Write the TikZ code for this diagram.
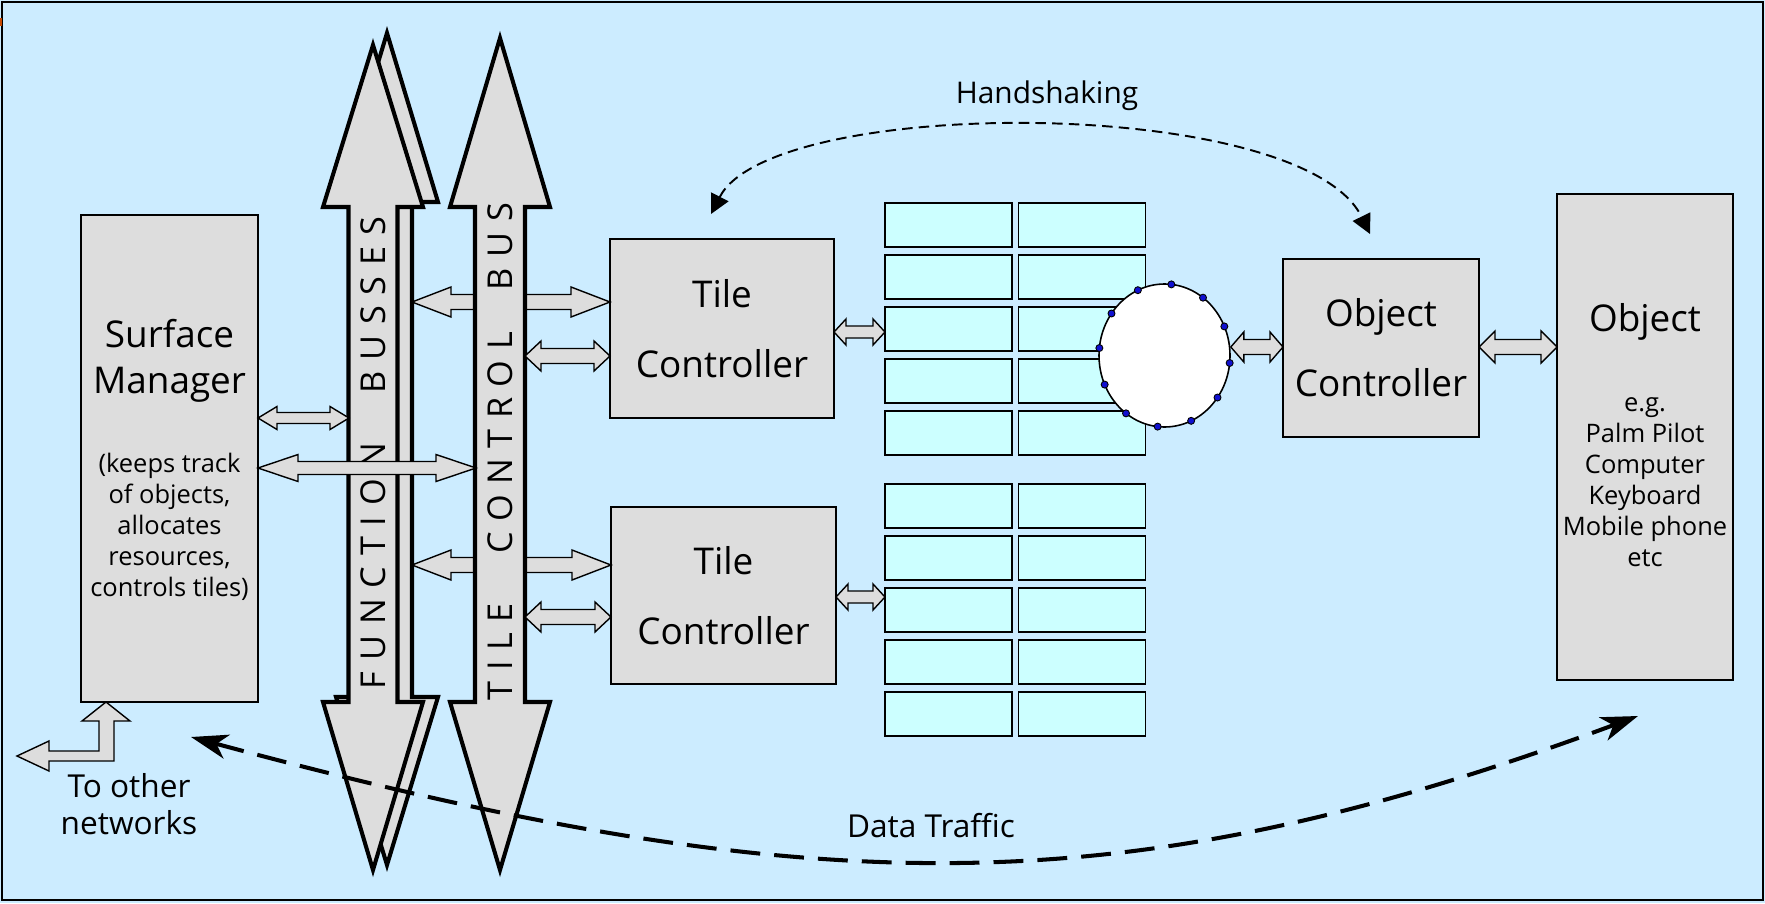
\documentclass[tikz,border=0pt]{standalone}
\usepackage{fontspec}
\setmainfont{Open Sans}
\usetikzlibrary{calc,shapes.geometric,arrows.meta}

\newlength\pxu
\setlength\pxu{0.02cm}

\definecolor{bgblue}{HTML}{CCECFF}
\definecolor{boxgrey}{HTML}{DDDDDD}
\definecolor{tilecyan}{HTML}{CCFFFF}
\definecolor{portblue}{HTML}{1010D0}
\definecolor{marker}{HTML}{C84800}

% horizontal double-headed block arrow between two points on one level
% #2 start, #3 end, #4 head length, #5 head half height, #6 shaft half height (all in px units)
\newcommand\dblblock[6][]{%
  \filldraw[blockarr,#1] let \p1=#2, \p2=#3 in
    (\x1,\y1) -- (\x1+#4*\pxu,\y1+#5*\pxu) -- (\x1+#4*\pxu,\y1+#6*\pxu)
    -- (\x2-#4*\pxu,\y1+#6*\pxu) -- (\x2-#4*\pxu,\y1+#5*\pxu) -- (\x2,\y1)
    -- (\x2-#4*\pxu,\y1-#5*\pxu) -- (\x2-#4*\pxu,\y1-#6*\pxu)
    -- (\x1+#4*\pxu,\y1-#6*\pxu) -- (\x1+#4*\pxu,\y1-#5*\pxu) -- cycle;}

\begin{document}
\begin{tikzpicture}[x=0.02cm,y=-0.02cm,
  bigfont/.style={font=\fontsize{21}{40}\selectfont},
  smallfont/.style={font=\fontsize{14.5}{17.6}\selectfont},
  box/.style={draw=black,fill=boxgrey,line width=1pt,inner sep=0pt,outer sep=0pt},
  tile/.style={draw=black,fill=tilecyan,line width=0.9pt,inner sep=0pt,outer sep=0pt,
    minimum width={127*\pxu},minimum height={44*\pxu}},
  busarrow/.style={draw=black,fill=boxgrey,line width=2.3pt,line join=miter},
  blockarr/.style={draw=black,fill=boxgrey,line width=0.8pt,line join=miter},
  port/.style={circle,draw=black,fill=portblue,line width=0.5pt,inner sep=0pt,minimum size={7*\pxu}},
  buslabel/.style={rotate=90,font=\fontsize{19.5}{22}\selectfont,inner sep=0pt},
  label/.style={align=center,inner sep=0pt}]

% canvas
\fill[bgblue] (0,0) rectangle (1765,903);
\useasboundingbox (0,0) rectangle (1765,903);
\draw[line width=1.1pt] (2,2) rectangle (1763,900);
\fill[marker] (0,18) rectangle (2,26);

% level markers for the block arrows
\coordinate (lvA) at (0,302);
\coordinate (lvB) at (0,356);
\coordinate (lvC) at (0,418);
\coordinate (lvD) at (0,468);
\coordinate (lvE) at (0,565);
\coordinate (lvF) at (0,617);
\coordinate (lvG) at (0,332);
\coordinate (lvH) at (0,597);
\coordinate (lvI) at (0,347);
% bus edges
\coordinate (fbL) at (349,0);
\coordinate (fbR) at (412,0);
\coordinate (tcbL) at (476,0);
\coordinate (tcbR) at (525,0);

% surface manager
\node[box,minimum width={177*\pxu},minimum height={487*\pxu}] (sm) at (169.5,458.5) {};
\node[label,font=\fontsize{21}{26}\selectfont] (smtitle) at (169.5,361) {Surface\\Manager};
\node[label,smallfont] (smnote) at (169.5,527) {(keeps track\\of objects,\\allocates\\resources,\\controls tiles)};

% tile controllers, linked to the function busses (behind the control bus)
\node[box,minimum width={224*\pxu},minimum height={179*\pxu},bigfont,align=center] (tc1) at (722,328.5) {Tile\\Controller};
\node[box,minimum width={225*\pxu},minimum height={177*\pxu},bigfont,align=center] (tc2) at (723.5,595.5) {Tile\\Controller};
\dblblock{(fbR |- lvA)}{(tc1.west |- lvA)}{39}{15}{7.5}
\dblblock{(fbR |- lvE)}{(tc2.west |- lvE)}{39}{15}{7.5}

% function busses (two stacked)
\path[busarrow] (387,33) -- (438,202) -- (412,202) -- (412,697) -- (438,697) -- (387,865)
  -- (336,697) -- (362,697) -- (362,202) -- (336,202) -- cycle;
\path[busarrow] (373,45) -- (423,207) -- (397.5,207) -- (397.5,702) -- (423,702) -- (373,870)
  -- (323,702) -- (348.5,702) -- (348.5,207) -- (323,207) -- cycle;
\node[buslabel] (fblabel) at (373,453) {\makebox[472\pxu][s]{F U N C T I O N\hspace{22pt} B U S S E S}};

% tile control bus
\path[busarrow] (500,38) -- (550,207) -- (525,207) -- (525,702) -- (550,702) -- (500,870)
  -- (450,702) -- (475,702) -- (475,207) -- (450,207) -- cycle;
\node[buslabel] (tcblabel) at (500,451.5) {\makebox[497\pxu][s]{T I L E\hspace{22pt} C O N T R O L\hspace{18pt} B U S}};

% surface manager links
\dblblock{(sm.east |- lvC)}{(fbL |- lvC)}{19}{11.5}{5.5}
\dblblock{(sm.east |- lvD)}{(tcbL |- lvD)}{40}{13.5}{6.5}

% control bus to tile controllers
\dblblock{(tcbR |- lvB)}{(tc1.west |- lvB)}{16}{15}{7.5}
\dblblock{(tcbR |- lvF)}{(tc2.west |- lvF)}{16}{15}{7.5}

% tile arrays
\foreach \r in {0,...,4} {
  \node[tile] (ta1-\r) at (948.5,{225+52*\r}) {};
  \node[tile] (ta2-\r) at (1082,{225+52*\r}) {};
  \node[tile] (tb1-\r) at (948.5,{506+52*\r}) {};
  \node[tile] (tb2-\r) at (1082,{506+52*\r}) {};
}
\dblblock{(tc1.east |- lvG)}{(ta1-2.west |- lvG)}{12}{13}{6}
\dblblock{(tc2.east |- lvH)}{(tb1-2.west |- lvH)}{12}{13}{6}

% connector hub
\node[ellipse,draw=black,fill=white,line width=0.9pt,inner sep=0pt,
  minimum width={131*\pxu},minimum height={143*\pxu}] (hub) at (1164.5,355.5) {};
\foreach \a [count=\i] in {-6,24,...,324} {
  \node[port] (p\i) at ($(hub.center)+({65.5*cos(\a)},{-71.5*sin(\a)})$) {};
}

% object controller and object
\node[box,minimum width={196*\pxu},minimum height={178*\pxu},bigfont,align=center] (oc) at (1381,348) {Object\\Controller};
\node[box,minimum width={176*\pxu},minimum height={486*\pxu}] (obj) at (1645,437) {};
\node[label,bigfont] (objtitle) at (1645,322) {Object};
\node[label,smallfont] (objnote) at (1645,482) {e.g.\\Palm Pilot\\Computer\\Keyboard\\Mobile phone\\etc};

\dblblock{(hub.east |- lvI)}{(oc.west |- lvI)}{13}{15}{7.5}
\dblblock{(oc.east |- lvI)}{(obj.west |- lvI)}{16}{16}{7.5}

% link to other networks
\coordinate (netup) at ($(sm.south west)+(25,0)$);
\filldraw[blockarr] (netup) -- ++(24,19) -- ++(-16,0) -- ++(0,40) -- ++(-65,0) -- ++(0,10)
  -- ++(-32,-15) -- ++(32,-15) -- ++(0,10) -- ++(50,0) -- ++(0,-30) -- ++(-17,0) -- cycle;
\node[label,font=\fontsize{18}{21}\selectfont] (nettext) at (129,804) {To other\\networks};

% handshaking between tile and object controllers
\coordinate (hsL) at (711,214);
\coordinate (hsR) at (1370,234);
\draw[line width=1.1pt,dash pattern=on 6pt off 3.5pt,{Triangle[length=11pt,width=11pt]}-{Triangle[length=11pt,width=11pt]}]
  (hsL) .. controls (772,95) and (1302,95) .. (hsR);
\node[label,font=\fontsize{17}{20}\selectfont] (hstext) at (1047,96) {Handshaking};

% data traffic between surface manager and object
\coordinate (dtL) at (191,737);
\coordinate (dtR) at (1638,716);
\draw[line width=2.3pt,dash pattern=on 17pt off 8pt,{Stealth[length=21pt,width=14pt,inset=6pt]}-{Stealth[length=21pt,width=14pt,inset=6pt]}]
  (dtL) .. controls (817,906) and (1126,906) .. (dtR);
\node[label,font=\fontsize{18}{21}\selectfont] (dttext) at (931,826) {Data Traffic};
\end{tikzpicture}
\end{document}
